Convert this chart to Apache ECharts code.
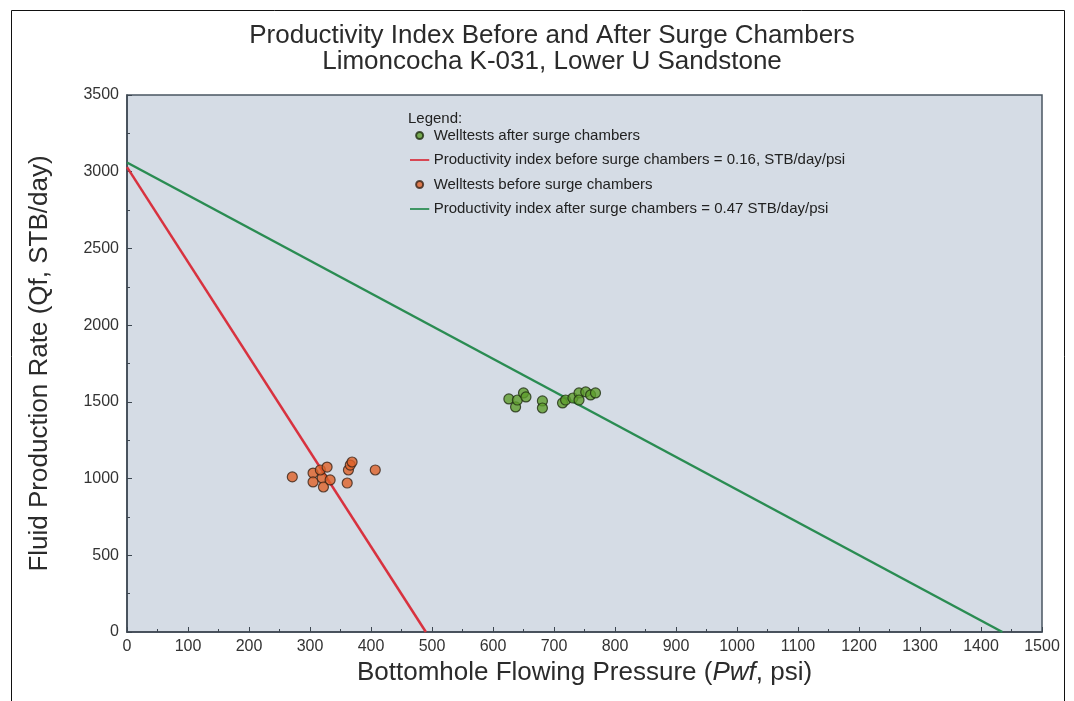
<!DOCTYPE html>
<html>
<head>
<meta charset="utf-8">
<script src="https://cdn.jsdelivr.net/npm/echarts@6/dist/echarts.min.js"></script>
<style>
html,body{margin:0;padding:0;background:#fff;}
#chart{width:1074px;height:701px;}
</style>
</head>
<body>
<div id="chart"></div>
<script>
// Data
var titleLines = ['Productivity Index Before and After Surge Chambers', 'Limoncocha K-031, Lower U Sandstone'];
var seriesNames = [
  'Welltests after surge chambers',
  'Productivity index before surge chambers = 0.16, STB/day/psi',
  'Welltests before surge chambers',
  'Productivity index after surge chambers = 0.47 STB/day/psi'
];
// [Pwf psi, Qf STB/day]
var afterTests = [
  [626,1519],[637,1467],[640,1512],[650,1558],[654,1532],
  [681,1506],[681,1460],[714,1493],[719,1512],[731,1525],
  [741,1558],[741,1512],[752,1565],[760,1545],[768,1558]
];
var beforeTests = [
  [271,1011],[305,1036],[305,978],[320,1004],[317,1056],
  [328,1075],[322,945],[333,991],[363,1056],[366,1088],
  [369,1108],[361,971],[407,1056]
];
var piBeforeLine = [[0,3030],[490,0]];
var piAfterLine = [[0,3060],[1435,0]];
var xTicks = {min:0, max:1500, interval:100, minor:50};
var yTicks = {min:0, max:3500, interval:500, minor:250};

var chart = echarts.init(document.getElementById('chart'));
var FONT = 'Liberation Sans';
var AX = '#3c4650';
var lineIcon = 'path://M0,0 M22,8 M0,3 L22,3 L22,5 L0,5 Z';
var plain = function (v) { return String(v); };
var option = {
  backgroundColor: '#ffffff',
  animation: false,
  textStyle: {fontFamily: FONT},
  title: [
    {text: titleLines[0] + '\n' + titleLines[1], left: 547, top: 18, textAlign: 'center',
     textStyle: {fontFamily: FONT, fontSize: 26, fontWeight: 'normal', color: '#2b2b2b', lineHeight: 26}},
    {text: 'Legend:', left: 403, top: 106,
     textStyle: {fontFamily: FONT, fontSize: 15, fontWeight: 'normal', color: '#222'}}
  ],
  graphic: [
    {type: 'rect', left: 9, top: 8, shape: {x:0, y:0, width: 1053, height: 740}, z: 100,
     style: {fill: 'none', stroke: '#111', lineWidth: 1}}
  ],
  legend: {
    orient: 'vertical', left: 405, top: 123,
    itemWidth: 22, itemHeight: 7, itemGap: 9.5,
    textStyle: {fontFamily: FONT, fontSize: 15, color: '#222', padding: [0,0,0,-2]},
    data: [
      {name: seriesNames[0], icon: 'circle'},
      {name: seriesNames[1], icon: lineIcon},
      {name: seriesNames[2], icon: 'circle'},
      {name: seriesNames[3], icon: lineIcon}
    ]
  },
  grid: {left: 127, right: 32, top: 95, bottom: 69,
         show: true, backgroundColor: '#d5dce5', borderColor: '#4a5561', borderWidth: 1.5},
  xAxis: [{
    type: 'value', min: xTicks.min, max: xTicks.max, interval: xTicks.interval,
    name: '{n|Bottomhole Flowing Pressure (}{i|Pwf}{n|, psi)}',
    nameLocation: 'middle', nameGap: 21,
    nameTextStyle: {rich: {
      n: {fontFamily: FONT, fontSize: 26, color: '#2b2b2b'},
      i: {fontFamily: FONT, fontSize: 26, color: '#2b2b2b', fontStyle: 'italic'}
    }},
    axisLine: {show: true, lineStyle: {color: AX, width: 1.5}},
    axisTick: {show: true, inside: true, length: 5, lineStyle: {color: AX}},
    axisLabel: {fontFamily: FONT, fontSize: 16, color: '#333', margin: 7, formatter: plain},
    splitLine: {show: false}
  }, {
    type: 'value', position: 'bottom', min: xTicks.min, max: xTicks.max, interval: xTicks.minor,
    axisLine: {show: false},
    axisTick: {show: true, inside: true, length: 3, lineStyle: {color: AX}},
    axisLabel: {show: false}, splitLine: {show: false}
  }],
  yAxis: [{
    type: 'value', min: yTicks.min, max: yTicks.max, interval: yTicks.interval,
    name: 'Fluid Production Rate (Qf, STB/day)',
    nameLocation: 'middle', nameGap: 74,
    nameTextStyle: {fontFamily: FONT, fontSize: 26, color: '#2b2b2b'},
    axisLine: {show: true, lineStyle: {color: AX, width: 1.5}},
    axisTick: {show: true, inside: true, length: 5, lineStyle: {color: AX}},
    axisLabel: {fontFamily: FONT, fontSize: 16, color: '#333', margin: 8, formatter: plain},
    splitLine: {show: false}
  }, {
    type: 'value', position: 'left', min: yTicks.min, max: yTicks.max, interval: yTicks.minor,
    axisLine: {show: false},
    axisTick: {show: true, inside: true, length: 3, lineStyle: {color: AX}},
    axisLabel: {show: false}, splitLine: {show: false}
  }],
  series: [
    {name: seriesNames[0], type: 'scatter', data: afterTests, symbolSize: 10, z: 5,
     itemStyle: {color: '#5e9e2c', borderColor: '#1f2d12', borderWidth: 1.2}},
    {name: seriesNames[1], type: 'line', data: piBeforeLine, symbol: 'none', z: 3,
     lineStyle: {color: '#d8323f', width: 2.5}, itemStyle: {color: '#d8323f'}},
    {name: seriesNames[2], type: 'scatter', data: beforeTests, symbolSize: 10, z: 5,
     itemStyle: {color: '#df6128', borderColor: '#3a2418', borderWidth: 1.2}},
    {name: seriesNames[3], type: 'line', data: piAfterLine, symbol: 'none', z: 3,
     lineStyle: {color: '#2a8c52', width: 2.5}, itemStyle: {color: '#2a8c52'}}
  ]
};
chart.setOption(option);
</script>
</body>
</html>
